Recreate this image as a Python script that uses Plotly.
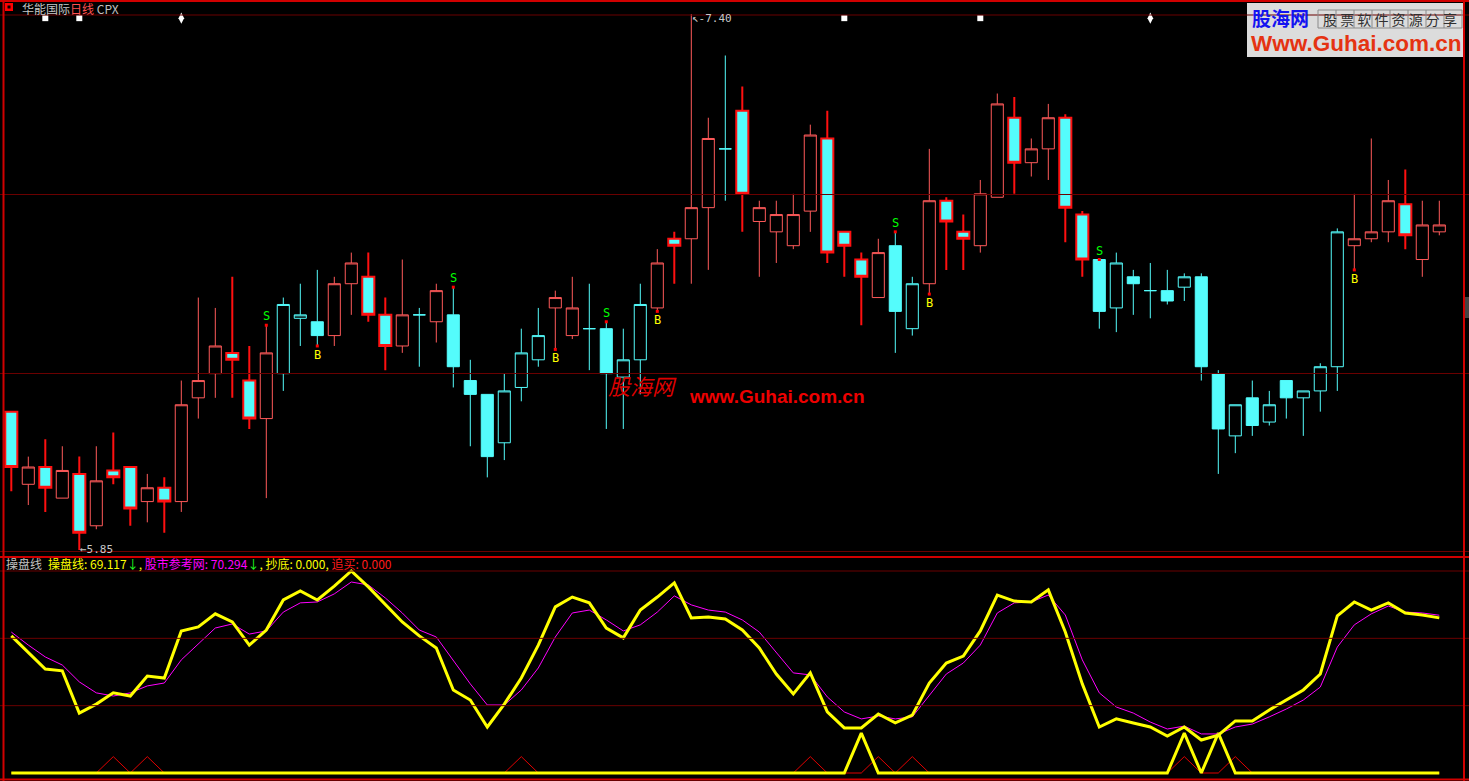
import plotly.graph_objects as go

W, H = 1469, 781

# ---------------- data ----------------
opens  = [6.25, 6.04, 6.09, 6.00, 6.07, 5.92, 6.08, 6.09, 5.99, 6.03,
          5.99, 6.29, 6.36, 6.42, 6.34, 6.23, 6.36, 6.52, 6.51, 6.47,
          6.62, 6.64, 6.53, 6.44, 6.53, 6.51, 6.53, 6.34, 6.30, 6.16,
          6.32, 6.40, 6.55, 6.47, 6.49, 6.49, 6.35, 6.40, 6.55, 6.75,
          6.75, 6.84, 7.01, 7.12, 6.80, 6.77, 6.73, 6.83, 7.04, 6.77,
          6.69, 6.58, 6.73, 6.49, 6.62, 6.86, 6.77, 6.73, 6.87, 7.10,
          6.97, 7.01, 7.10, 6.82, 6.69, 6.55, 6.64, 6.60, 6.60, 6.61,
          6.64, 6.36, 6.18, 6.29, 6.22, 6.34, 6.29, 6.31, 6.38, 6.73,
          6.75, 6.77, 6.85, 6.69, 6.77]
highs  = [6.25, 6.12, 6.17, 6.15, 6.12, 6.15, 6.19, 6.09, 6.07, 6.06,
          6.34, 6.58, 6.55, 6.64, 6.44, 6.50, 6.58, 6.62, 6.66, 6.64,
          6.71, 6.71, 6.58, 6.69, 6.55, 6.62, 6.61, 6.40, 6.30, 6.36,
          6.49, 6.55, 6.60, 6.64, 6.62, 6.51, 6.49, 6.62, 6.72, 6.77,
          7.40, 7.10, 7.28, 7.19, 6.86, 6.86, 6.88, 7.08, 7.12, 6.77,
          6.71, 6.75, 6.77, 6.64, 7.01, 6.87, 6.82, 6.92, 7.17, 7.16,
          7.04, 7.14, 7.11, 6.83, 6.69, 6.71, 6.66, 6.68, 6.66, 6.65,
          6.65, 6.37, 6.27, 6.34, 6.31, 6.34, 6.31, 6.39, 6.78, 6.88,
          7.04, 6.92, 6.95, 6.86, 6.86]
lows   = [6.02, 5.98, 5.96, 6.00, 5.85, 5.91, 6.04, 5.92, 5.93, 5.90,
          5.96, 6.23, 6.29, 6.29, 6.20, 6.00, 6.31, 6.44, 6.44, 6.44,
          6.53, 6.51, 6.37, 6.42, 6.38, 6.45, 6.32, 6.15, 6.06, 6.11,
          6.28, 6.38, 6.43, 6.46, 6.37, 6.20, 6.20, 6.30, 6.54, 6.62,
          6.62, 6.66, 6.86, 6.77, 6.64, 6.68, 6.72, 6.77, 6.68, 6.64,
          6.50, 6.58, 6.42, 6.47, 6.59, 6.66, 6.66, 6.71, 6.87, 6.88,
          6.93, 6.92, 6.74, 6.64, 6.49, 6.48, 6.53, 6.52, 6.56, 6.57,
          6.34, 6.07, 6.13, 6.18, 6.21, 6.23, 6.18, 6.25, 6.31, 6.66,
          6.74, 6.74, 6.72, 6.64, 6.76]
closes = [6.09, 6.09, 6.03, 6.08, 5.90, 6.05, 6.06, 5.97, 6.03, 5.99,
          6.27, 6.34, 6.44, 6.40, 6.23, 6.42, 6.56, 6.53, 6.47, 6.62,
          6.68, 6.53, 6.44, 6.53, 6.53, 6.60, 6.38, 6.30, 6.12, 6.31,
          6.42, 6.47, 6.58, 6.55, 6.49, 6.36, 6.40, 6.56, 6.68, 6.73,
          6.84, 7.04, 7.01, 6.88, 6.84, 6.82, 6.82, 7.05, 6.71, 6.73,
          6.64, 6.71, 6.54, 6.62, 6.86, 6.80, 6.75, 6.88, 7.14, 6.97,
          7.01, 7.10, 6.84, 6.69, 6.54, 6.68, 6.62, 6.60, 6.57, 6.64,
          6.38, 6.20, 6.27, 6.21, 6.27, 6.29, 6.31, 6.38, 6.77, 6.75,
          6.77, 6.86, 6.76, 6.79, 6.79]
# R = red trend colouring, C = cyan trend colouring
trend = list("RRRRRRRRRRRRRRRRCCCRRRRRCRCCCCCCRRCCCCRRRRCRRRRRRRRRCCRRRRRRRRRRCCCCCCCCCCCCCCCRRRRRR")

# indicator pane
caopan = [61.1, 53.9, 46.3, 45.5, 26.7, 30.7, 35.7, 34.3, 43.2, 42.3,
          63.3, 65.1, 70.9, 67.3, 57.0, 63.7, 77.1, 81.1, 77.1, 83.3,
          90.0, 82.9, 74.9, 67.3, 61.1, 55.7, 37.0, 32.5, 20.5, 30.7,
          42.3, 57.0, 74.0, 78.4, 75.8, 64.6, 60.2, 72.6, 78.4, 84.7,
          69.1, 69.5, 68.6, 63.7, 55.7, 44.1, 35.2, 44.6, 27.2, 20.1,
          20.1, 26.3, 22.3, 25.8, 40.1, 49.0, 52.1, 63.3, 79.3, 76.6,
          76.2, 81.6, 62.8, 39.7, 20.5, 24.1, 22.3, 20.5, 16.5, 20.5,
          14.7, 16.9, 23.2, 23.2, 28.1, 32.5, 37.0, 44.1, 70.0, 76.2,
          72.6, 75.8, 71.3, 70.4, 69.117]
cankao = [62.8, 57.0, 51.7, 48.1, 40.6, 35.7, 34.3, 35.7, 38.8, 40.1,
          50.4, 57.5, 64.6, 66.4, 61.9, 63.3, 71.7, 75.8, 76.2, 79.8,
          85.1, 83.8, 78.0, 71.3, 63.7, 60.6, 50.4, 39.7, 30.3, 30.3,
          37.0, 46.8, 60.6, 71.3, 72.6, 68.2, 63.3, 66.0, 71.7, 78.9,
          74.9, 72.6, 71.7, 68.2, 62.8, 53.9, 44.6, 43.7, 33.9, 27.2,
          24.1, 25.4, 24.1, 25.0, 34.8, 44.1, 49.0, 57.0, 71.3, 75.8,
          76.2, 79.3, 70.4, 50.4, 35.7, 29.4, 26.7, 22.7, 19.6, 20.9,
          17.4, 17.4, 20.5, 21.8, 25.0, 28.5, 32.5, 38.3, 56.1, 66.0,
          70.9, 74.4, 71.7, 71.3, 70.294]
chaodi = [0.0] * 85
for i in (50, 69, 71):
    chaodi[i] = 17.8
zhuimai = [0.0] * 85
for i in (6, 8, 30, 47, 51, 53, 69, 72):
    zhuimai[i] = 7.3

sell_idx = [15, 26, 35, 52, 64]
buy_idx = [18, 32, 38, 54, 79]
star_idx = [2, 4, 49, 57]
dia_idx = [10, 67]
low_i, low_v = 4, 5.85
high_i, high_v = 40, 7.40

n = len(opens)
xs = list(range(n))

def px(v):
    return v / W

def py(v):
    return 1 - v / H

CYAN = "#54fcfc"
fig = go.Figure()

styles = [
    ("R", "#ff5a5a", "#000000", 1, "#ff1010", CYAN, 2),
    ("C", CYAN, "#000000", 1, CYAN, CYAN, 1),
]
for T, il, ifc, iw, dl, dfc, dw in styles:
    ids = [i for i in xs if trend[i] == T]
    fig.add_trace(go.Candlestick(
        x=ids,
        open=[opens[i] for i in ids], high=[highs[i] for i in ids],
        low=[lows[i] for i in ids], close=[closes[i] for i in ids],
        increasing=dict(line=dict(color=il, width=iw), fillcolor=ifc),
        decreasing=dict(line=dict(color=dl, width=dw), fillcolor=dfc),
        whiskerwidth=0, xaxis="x", yaxis="y", showlegend=False, hoverinfo="skip"))

# small red dots at signal candles
fig.add_trace(go.Scatter(
    x=sell_idx + buy_idx,
    y=[highs[i] for i in sell_idx] + [lows[i] for i in buy_idx],
    mode="markers", marker=dict(symbol="square", size=3, color="#ff0000"),
    xaxis="x", yaxis="y", showlegend=False, hoverinfo="skip", cliponaxis=False))

# white top markers
top_v = 7.388
fig.add_trace(go.Scatter(x=star_idx, y=[top_v] * len(star_idx), mode="markers",
                         marker=dict(symbol="square", size=6, color="#ffffff"),
                         xaxis="x", yaxis="y", showlegend=False, hoverinfo="skip", cliponaxis=False))
fig.add_trace(go.Scatter(x=dia_idx, y=[top_v] * len(dia_idx), mode="markers",
                         marker=dict(symbol="diamond-tall", size=8, color="#ffffff"),
                         xaxis="x", yaxis="y", showlegend=False, hoverinfo="skip", cliponaxis=False))

# indicator pane lines
fig.add_trace(go.Scatter(x=xs, y=zhuimai, mode="lines", line=dict(color="#e00000", width=1),
                         xaxis="x2", yaxis="y2", showlegend=False, hoverinfo="skip"))
fig.add_trace(go.Scatter(x=xs, y=chaodi, mode="lines", line=dict(color="#ffff00", width=3),
                         xaxis="x2", yaxis="y2", showlegend=False, hoverinfo="skip"))
fig.add_trace(go.Scatter(x=xs, y=cankao, mode="lines", line=dict(color="#ff00ff", width=1),
                         xaxis="x2", yaxis="y2", showlegend=False, hoverinfo="skip"))
fig.add_trace(go.Scatter(x=xs, y=caopan, mode="lines", line=dict(color="#ffff00", width=3),
                         xaxis="x2", yaxis="y2", showlegend=False, hoverinfo="skip"))

xr = [-11.3 / 17, (W - 11.3) / 17]

shapes = []
def hline(yp, color, width=1):
    shapes.append(dict(type="line", xref="paper", yref="paper", x0=0, x1=1,
                       y0=py(yp), y1=py(yp), line=dict(color=color, width=width)))
def vline(xp, color, width=1):
    shapes.append(dict(type="line", xref="paper", yref="paper", x0=px(xp), x1=px(xp),
                       y0=0, y1=1, line=dict(color=color, width=width)))

DARK = "#6a0000"
hline(1, "#d00000", 2)
hline(15, DARK)
hline(194.5, DARK)
hline(373.5, DARK)
hline(551.5, DARK)
hline(557, "#d00000", 2)
hline(779.5, "#d00000", 2)
for v in (30, 60, 90):
    shapes.append(dict(type="line", xref="paper", yref="y2", x0=0, x1=1, y0=v, y1=v,
                       line=dict(color=DARK, width=1)))
vline(3.5, "#d00000", 2)
vline(1464, "#d00000", 2)

# title icon
shapes.append(dict(type="rect", xref="paper", yref="paper", x0=px(5), x1=px(13),
                   y0=py(11), y1=py(3), fillcolor="#ff0000", line=dict(width=0)))
shapes.append(dict(type="rect", xref="paper", yref="paper", x0=px(7.5), x1=px(10.5),
                   y0=py(8.5), y1=py(5.5), fillcolor="#000000", line=dict(width=0)))
# logo box
shapes.append(dict(type="rect", xref="paper", yref="paper", x0=px(1247), x1=px(1463),
                   y0=py(57), y1=py(3), fillcolor="#dcdcdc", line=dict(width=0), layer="below"))
shapes.append(dict(type="rect", xref="paper", yref="paper", x0=px(1318), x1=px(1462),
                   y0=py(28), y1=py(10), fillcolor="rgba(0,0,0,0)",
                   line=dict(color="#8a8a8a", width=1)))
for k in range(1, 8):
    xx = 1318 + 18 * k
    shapes.append(dict(type="line", xref="paper", yref="paper", x0=px(xx), x1=px(xx),
                       y0=py(28), y1=py(10), line=dict(color="#8a8a8a", width=1)))
# right edge partial widget
shapes.append(dict(type="rect", xref="paper", yref="paper", x0=px(1465), x1=px(1469),
                   y0=py(318), y1=py(297), fillcolor="#444444", line=dict(width=0)))

CJK = "Noto Sans CJK SC"
ann = []
ann.append(dict(xref="paper", yref="paper", x=px(20), y=py(8.5), xanchor="left", yanchor="middle",
                showarrow=False, font=dict(family=CJK, size=12, color="#c0c0c0"),
                text='<span style="color:#c8c8c8">华能国际</span><span style="color:#ff5050">日线</span>'
                     ' <span style="color:#c0c0c0">CPX</span>'))
ann.append(dict(xref="paper", yref="paper", x=px(4), y=py(563.5), xanchor="left", yanchor="middle",
                showarrow=False, font=dict(family=CJK, size=12, color="#c0c0c0"), text="操盘线"))
ann.append(dict(xref="paper", yref="paper", x=px(46), y=py(563.5), xanchor="left", yanchor="middle",
                showarrow=False, font=dict(family=CJK, size=12, color="#ffff00"),
                text='<span style="color:#ffff00">操盘线: 69.117</span>'
                     '<span style="color:#20ff20">↓</span>'
                     '<span style="color:#ffff00">, </span>'
                     '<span style="color:#ff00ff">股市参考网: 70.294</span>'
                     '<span style="color:#20ff20">↓</span>'
                     '<span style="color:#ffff00">, 抄底: 0.000, </span>'
                     '<span style="color:#ff1a1a">追买: 0.000</span>'))
for i in sell_idx:
    ann.append(dict(xref="x", yref="y", x=i, y=highs[i], yshift=9, showarrow=False,
                    xanchor="center", yanchor="middle",
                    font=dict(family="DejaVu Sans Mono", size=12, color="#00ff00"), text="S"))
for i in buy_idx:
    ann.append(dict(xref="x", yref="y", x=i, y=lows[i], yshift=-9, showarrow=False,
                    xanchor="center", yanchor="middle",
                    font=dict(family="DejaVu Sans Mono", size=12, color="#ffff00"), text="B"))
ann.append(dict(xref="x", yref="y", x=low_i, y=low_v, xanchor="left", yanchor="middle",
                xshift=-1, showarrow=False,
                font=dict(family="DejaVu Sans Mono", size=11, color="#c8c8c8"),
                text="←%.2f" % low_v))
ann.append(dict(xref="x", yref="y", x=high_i, y=high_v, xanchor="left", yanchor="middle",
                xshift=-1, yshift=-5, showarrow=False,
                font=dict(family="DejaVu Sans Mono", size=11, color="#c8c8c8"),
                text="↖-%.2f" % high_v))
# watermark in the middle
ann.append(dict(xref="paper", yref="paper", x=px(606), y=py(385), xanchor="left", yanchor="middle",
                showarrow=False, font=dict(family=CJK, size=22, color="#dd0000"),
                text="<i>股海网</i>"))
ann.append(dict(xref="paper", yref="paper", x=px(687), y=py(396), xanchor="left", yanchor="middle",
                showarrow=False, font=dict(family="Liberation Sans", size=19, color="#ee0000"),
                text="<b>www.Guhai.com.cn</b>"))
# logo texts
ann.append(dict(xref="paper", yref="paper", x=px(1250), y=py(18), xanchor="left", yanchor="middle",
                showarrow=False, font=dict(family=CJK, size=19, color="#1414f0"),
                text="<b>股海网</b>"))
ann.append(dict(xref="paper", yref="paper", x=px(1390), y=py(19), xanchor="center", yanchor="middle",
                showarrow=False, font=dict(family=CJK, size=14, color="#303030"),
                text="股 票 软 件 资 源 分 享"))
ann.append(dict(xref="paper", yref="paper", x=px(1356), y=py(43), xanchor="center", yanchor="middle",
                showarrow=False, font=dict(family="Liberation Sans", size=22.5, color="#e53312"),
                text="<b>Www.Guhai.com.cn</b>"))

fig.update_layout(
    width=W, height=H, margin=dict(l=0, r=0, t=0, b=0),
    paper_bgcolor="#000000", plot_bgcolor="#000000",
    showlegend=False, boxgap=0.29, boxgroupgap=0, boxmode="overlay",
    xaxis=dict(domain=[0, 1], range=xr, visible=False, anchor="y",
               rangeslider=dict(visible=False), fixedrange=True),
    yaxis=dict(domain=[py(552), py(14)], range=[7.40 - 538 / 345.8, 7.40],
               visible=False, fixedrange=True),
    xaxis2=dict(domain=[0, 1], range=xr, visible=False, anchor="y2", fixedrange=True),
    yaxis2=dict(domain=[0, py(558)], range=[-8 / 2.2444, 215 / 2.2444],
                visible=False, fixedrange=True),
    shapes=shapes, annotations=ann,
)

fig.write_html("out.html", config={"displayModeBar": False},
               post_script="document.body.style.margin='0';document.body.style.background='#000';")
